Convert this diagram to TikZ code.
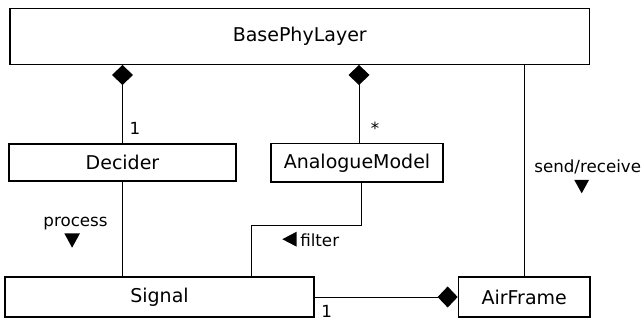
\documentclass[tikz,border=0pt]{standalone}
\usepackage{fontspec}
\setmainfont{DejaVu Sans}
\usepackage{tikz}
\usetikzlibrary{arrows.meta}

\begin{document}
\begin{tikzpicture}[x=1pt,y=1pt,line width=0.9pt,
  cls/.style={draw,line width=1.4pt,inner sep=0pt,font=\fontsize{19}{23}\selectfont},
  lbl/.style={inner sep=0pt,font=\fontsize{16.7}{20}\selectfont},
  comp/.style={-{Diamond[length=20pt,width=21pt]}}]
  \useasboundingbox (0,0) rectangle (644,320);
  % classes
  \node[cls,minimum width=579.5pt,minimum height=55.8pt] (base) at (299.75,283.6) {BasePhyLayer};
  \node[cls,minimum width=227pt,minimum height=37pt] (decider) at (122.5,157.5) {Decider};
  \node[cls,minimum width=172pt,minimum height=38.5pt] (analogue) at (357,157.2) {AnalogueModel};
  \node[cls,minimum width=309pt,minimum height=40pt] (signal) at (159.5,23) {Signal};
  \node[cls,minimum width=131.7pt,minimum height=40pt] (airframe) at (524.2,23) {AirFrame};
  % associations
  \draw[comp] (decider.north) -- (decider.north |- base.south);
  \draw[comp] ([xshift=2pt]analogue.north) -- ([xshift=2pt]analogue.north |- base.south);
  \draw (airframe.north) -- (airframe.north |- base.south);
  \draw (decider.south) -- (decider.south |- signal.north);
  \coordinate (fbend) at (251.5,95);
  \draw ([xshift=4pt]analogue.south) |- (fbend) -- (fbend |- signal.north);
  \draw[comp] (signal.east) -- (airframe.west);
  % labels
  \node[lbl,anchor=base] (one1) at (135,185.5) {1};
  \node[lbl,anchor=base] (many) at (375,185.5) {*};
  \node[lbl,anchor=base] (one2) at (326.7,2.5) {1};
  \node[lbl,anchor=base] (process) at (75.5,93) {process};
  \node[lbl,anchor=base] (sendrecv) at (587.7,147.5) {send/receive};
  \node[lbl,anchor=base] (filter) at (319.7,73.5) {filter};
  % direction marks
  \fill (64.3,86.7) -- (80,86.7) -- (72.1,72.3) -- cycle;
  \fill (574.3,140) -- (589,140) -- (581.7,126.7) -- cycle;
  \fill (296.7,88.3) -- (296.7,73.3) -- (282.3,80.8) -- cycle;
\end{tikzpicture}
\end{document}
